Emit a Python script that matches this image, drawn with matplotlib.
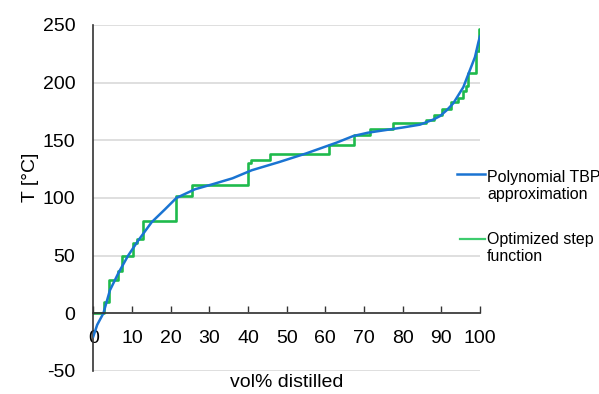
import matplotlib.pyplot as plt
from matplotlib.lines import Line2D

plt.rcParams['font.family'] = ['Liberation Sans', 'DejaVu Sans']
plt.rcParams['axes.unicode_minus'] = False

# polynomial TBP curve
tbp_vol = [0, 1, 2.6, 4.3, 6.5, 9, 11.6, 15.1, 18.5, 21.5, 26.3, 31, 36, 41,
           48, 55, 63, 67.2, 71, 75, 80, 84.5, 88, 89.7, 91.4, 93.1, 95.7,
           96.5, 98.7, 99.6, 100]
tbp_temp = [-20, -10, 0, 20, 35, 50, 63, 79, 90, 100, 107.5, 112, 117, 124,
            131, 138.5, 148, 153.6, 156.5, 158.5, 161, 163.5, 168, 171, 176,
            182, 196, 203, 222, 235, 240]

# optimized step function: step start positions and levels
step_vol = [0, 2.7, 4.1, 6.5, 7.5, 10.3, 11.4, 12.9, 21.3, 25.4, 40.1, 40.7,
            45.7, 61.0, 67.3, 71.6, 77.4, 86.0, 88.0, 90.3, 92.6, 94.4, 95.5,
            96.4, 96.8, 99.0, 99.8, 100]
step_temp = [0, 10, 29, 37, 50, 61, 64, 80, 102, 111, 130, 133,
             138, 146, 154.5, 159.5, 165, 167.5, 172, 177, 183, 187, 193,
             197, 208, 227, 246, 246]

blue = '#1a74d2'
green = '#1fba4c'

fig = plt.figure(figsize=(5.99, 3.94), dpi=100)
ax = fig.add_axes([0.1558, 0.0584, 0.8013 - 0.1558, 0.937 - 0.0584])

ax.plot(tbp_vol, tbp_temp, color=blue, linewidth=1.8, zorder=3)
ax.step(step_vol, step_temp, where='post', color=green, linewidth=1.9, zorder=2)

ax.set_xlim(0, 100)
ax.set_ylim(-50, 250)
ax.set_xticks(range(0, 101, 10))
ax.set_yticks(range(-50, 251, 50))

# gridlines
ax.yaxis.grid(True, color='#d9d9d9', linewidth=1.2)
ax.set_axisbelow(True)

# x axis sits at T = 0
for s in ['top', 'right']:
    ax.spines[s].set_visible(False)
ax.spines['left'].set_color('#333333')
ax.spines['left'].set_linewidth(1.2)
ax.spines['bottom'].set_position(('data', 0))
ax.spines['bottom'].set_color('#333333')
ax.spines['bottom'].set_linewidth(1.2)
ax.spines['bottom'].set_zorder(4)

ax.tick_params(axis='x', direction='in', length=5, width=1, color='#333333',
               labelsize=14, pad=12)
ax.tick_params(axis='y', length=0, labelsize=14, pad=13)

ax.set_xlabel('vol% distilled', fontsize=14)
ax.xaxis.set_label_coords(0.5, -0.01)
ax.set_ylabel('T [°C]', fontsize=14)
ax.yaxis.set_label_coords(-0.14, 0.56)

# legend, drawn by hand to keep the handle on the first text line
W, H = 599, 394
fig.add_artist(Line2D([457 / W, 485 / W], [1 - 174 / H, 1 - 174 / H],
                      color=blue, linewidth=1.8))
fig.text(487 / W, 1 - 186 / H, 'Polynomial TBP\napproximation', fontsize=11.5,
         va='center', ha='left', linespacing=1.2)
fig.add_artist(Line2D([460 / W, 485 / W], [1 - 239 / H, 1 - 239 / H],
                      color='#3dcc6e', linewidth=1.6))
fig.text(487 / W, 1 - 248 / H, 'Optimized step\nfunction', fontsize=11.5,
         va='center', ha='left', linespacing=1.2)

fig.savefig('out.png', dpi=100)
